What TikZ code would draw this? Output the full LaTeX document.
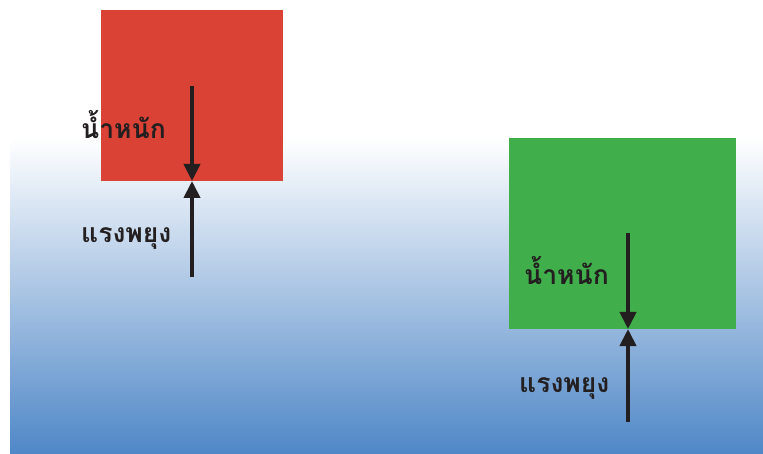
\documentclass[tikz,border=0pt]{standalone}
\usepackage{fontspec}
\newfontfamily\thaifont[Script=Thai]{Loma}
\usetikzlibrary{arrows.meta}
\definecolor{water}{RGB}{79,135,199}
\definecolor{redbox}{RGB}{219,66,54}
\definecolor{greenbox}{RGB}{64,174,74}
\definecolor{ink}{RGB}{35,31,32}
\begin{document}
\begin{tikzpicture}[x=1pt,y=-1pt,
  force/.style={ink,line width=4pt,-{Triangle[width=16pt,length=17pt]}},
  lbl/.style={font=\thaifont\bfseries\fontsize{26.5}{28}\selectfont,text=ink,inner sep=0pt,anchor=base west}]
\useasboundingbox (0,0) rectangle (763,454);
\shade[top color=white,bottom color=water] (10,138) rectangle (763,454);
% red block
\node[fill=redbox,minimum width=182pt,minimum height=171pt,inner sep=0pt,anchor=north west] (red) at (101,10) {};
\coordinate (rtop) at (192,86);
\coordinate (rbot) at (192,277);
\coordinate (rface) at (192,181);
\draw[force] (rtop) -- (rface);
\draw[force] (rbot) -- (rface);
\node[lbl] (rw) at (81,139) {น้ำหนัก};
\node[lbl] (rb) at (81,243) {แรงพยุง};
% green block
\node[fill=greenbox,minimum width=227pt,minimum height=191pt,inner sep=0pt,anchor=north west] (green) at (509,138) {};
\coordinate (gtop) at (628,233);
\coordinate (gbot) at (628,422);
\coordinate (gface) at (628,329);
\draw[force] (gtop) -- (gface);
\draw[force] (gbot) -- (gface);
\node[lbl] (gw) at (524,285) {น้ำหนัก};
\node[lbl] (gb) at (519,392) {แรงพยุง};
\end{tikzpicture}
\end{document}
